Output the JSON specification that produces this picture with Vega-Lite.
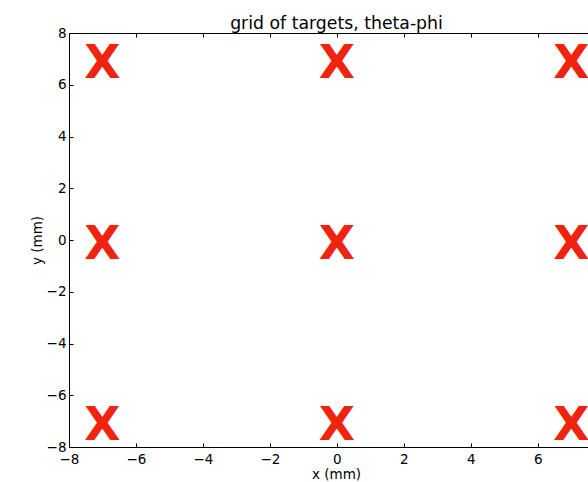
{
  "$schema": "https://vega.github.io/schema/vega-lite/v6.json",
  "autosize": "none",
  "width": 519,
  "height": 414,
  "padding": {"left": 69, "top": 33, "right": 0, "bottom": 35},
  "background": "white",
  "title": {"text": "grid of targets, theta-phi", "font": "DejaVu Sans", "fontSize": 17.3, "fontWeight": "normal", "color": "black", "anchor": "middle", "dx": 8, "baseline": "alphabetic", "offset": -20},
  "config": {"view": {"stroke": null}},
  "data": {"values": [
    {"x": -7, "y": 7}, {"x": 0, "y": 7}, {"x": 7, "y": 7},
    {"x": -7, "y": 0}, {"x": 0, "y": 0}, {"x": 7, "y": 0},
    {"x": -7, "y": -7}, {"x": 0, "y": -7}, {"x": 7, "y": -7}
  ]},
  "layer": [
    {
      "mark": {"type": "text", "text": "X", "font": "DejaVu Sans", "fontWeight": "bold", "fontSize": 47, "color": "#f0230f", "baseline": "middle", "align": "center", "dy": 5, "clip": false},
      "encoding": {
        "x": {"field": "x", "type": "quantitative", "scale": {"domain": [-8, 7.5], "nice": false, "zero": false},
          "axis": {"orient": "bottom", "title": "x (mm)", "titleFont": "DejaVu Sans", "titleFontSize": 13.5, "titleFontWeight": "normal", "titleColor": "black", "titlePadding": 2, "titleX": 267,
            "values": [-8, -6, -4, -2, 0, 2, 4, 6], "format": "d", "labelFont": "DejaVu Sans", "labelFontSize": 13.5, "labelColor": "black", "labelPadding": 9,
            "tickSize": -4, "tickColor": "black", "domainColor": "black", "grid": false, "labelFlush": false, "labelOverlap": false}},
        "y": {"field": "y", "type": "quantitative", "scale": {"domain": [-8, 8], "nice": false, "zero": false},
          "axis": {"title": "y (mm)", "titleFont": "DejaVu Sans", "titleFontSize": 13.5, "titleFontWeight": "normal", "titleColor": "black", "titlePadding": 2,
            "values": [-8, -6, -4, -2, 0, 2, 4, 6, 8], "format": "d", "labelFont": "DejaVu Sans", "labelFontSize": 13.5, "labelColor": "black", "labelPadding": 7,
            "tickSize": -4, "tickColor": "black", "domainColor": "black", "grid": false, "labelFlush": false, "labelOverlap": false}}
      }
    },
    {
      "mark": {"type": "text", "text": "X", "opacity": 0},
      "encoding": {
        "x": {"field": "x", "type": "quantitative",
          "axis": {"orient": "top", "title": null, "labels": false, "values": [-8, -6, -4, -2, 0, 2, 4, 6],
            "tickSize": -4, "tickColor": "black", "domainColor": "black", "grid": false}},
        "y": {"field": "y", "type": "quantitative"}
      }
    }
  ],
  "resolve": {"axis": {"x": "independent"}}
}
